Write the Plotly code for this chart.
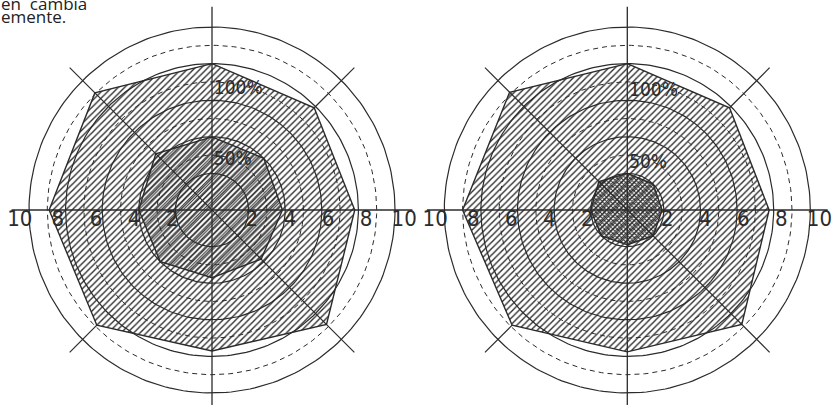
import numpy as np
import plotly.graph_objects as go

# spoke directions (degrees, counter-clockwise from east)
spoke_deg = [90, 45, 0, -45, -90, -135, 180, 135]

# values along each spoke
left_outer = [8.0, 7.9, 7.8, 8.85, 7.7, 8.9, 8.9, 9.05]
left_inner = [4.0, 4.0, 3.85, 3.8, 3.7, 4.0, 4.0, 4.35]
right_outer = [8.0, 7.9, 7.75, 8.85, 7.75, 8.9, 9.0, 9.1]
right_inner = [2.0, 2.0, 1.9, 2.0, 1.9, 2.0, 2.0, 2.2]

solid_rings = [2, 4, 6, 8, 10]
dashed_rings = [3, 5, 7, 9]
tick_vals = [-10, -8, -6, -4, -2, 2, 4, 6, 8, 10]
tick_text = ["10", "8", "6", "4", "2", "2", "4", "6", "8", "10"]
pct_text = ["100%", "50%"]
left_pct_r = [6.6, 2.7]
right_pct_r = [6.5, 2.55]

INK = "#2b2b2b"
NARROW = "Liberation Sans Narrow, DejaVu Sans Condensed, Open Sans, sans-serif"
PX = 18.3  # pixels per unit


def to_xy(values, degs):
    rad = np.radians(degs)
    return np.array(values) * np.cos(rad), np.array(values) * np.sin(rad)


def closed(a):
    return list(a) + [a[0]]


fig = go.Figure()


def add_radar(xa, ya, outer, inner, inner_pattern, pct_r):
    ax = dict(xaxis=xa, yaxis=ya)
    ox, oy = to_xy(outer, spoke_deg)
    fig.add_trace(go.Scatter(
        x=closed(ox), y=closed(oy), mode="lines", fill="toself",
        fillcolor="rgba(0,0,0,0)",
        fillpattern=dict(shape="/", size=4.5, solidity=0.3, fgcolor=INK, fillmode="replace"),
        line=dict(color=INK, width=1.4), hoverinfo="skip", **ax))
    ix, iy = to_xy(inner, spoke_deg)
    fig.add_trace(go.Scatter(
        x=closed(ix), y=closed(iy), mode="lines", fill="toself",
        fillcolor="rgba(0,0,0,0)",
        fillpattern=inner_pattern,
        line=dict(color=INK, width=1.4), hoverinfo="skip", **ax))

    t = np.linspace(0, 2 * np.pi, 241)
    for r in solid_rings:
        fig.add_trace(go.Scatter(x=r * np.cos(t), y=r * np.sin(t), mode="lines",
                                 line=dict(color=INK, width=1.2), hoverinfo="skip", **ax))
    for r in dashed_rings:
        fig.add_trace(go.Scatter(x=r * np.cos(t), y=r * np.sin(t), mode="lines",
                                 line=dict(color=INK, width=1.0, dash="5px,4px"),
                                 hoverinfo="skip", **ax))

    # axes: horizontal, vertical, full NW-SE diagonal, NE-SW only outside the shape
    fig.add_trace(go.Scatter(x=[-10.95, 10.95], y=[0, 0], mode="lines",
                             line=dict(color=INK, width=1.3), hoverinfo="skip", **ax))
    fig.add_trace(go.Scatter(x=[0, 0], y=[-10.8, 11.1], mode="lines",
                             line=dict(color=INK, width=1.3), hoverinfo="skip", **ax))
    dx, dy = to_xy([11.0, 11.0], [135, -45])
    fig.add_trace(go.Scatter(x=dx, y=dy, mode="lines",
                             line=dict(color=INK, width=1.2), hoverinfo="skip", **ax))
    for k in (1, 5):
        sx, sy = to_xy([outer[k], 11.0], [spoke_deg[k], spoke_deg[k]])
        fig.add_trace(go.Scatter(x=sx, y=sy, mode="lines",
                                 line=dict(color=INK, width=1.2), hoverinfo="skip", **ax))

    tx = [v * 1.04 + 0.1 * np.sign(v) for v in tick_vals]
    fig.add_trace(go.Scatter(x=tx, y=[-0.6] * len(tick_vals), mode="text", text=tick_text,
                             textposition="middle center", cliponaxis=False,
                             textfont=dict(family=NARROW, size=22, color=INK),
                             hoverinfo="skip", **ax))
    fig.add_trace(go.Scatter(x=[0.1] * len(pct_r), y=pct_r, mode="text", text=pct_text,
                             textposition="middle right", cliponaxis=False,
                             textfont=dict(family=NARROW, size=19, color=INK),
                             hoverinfo="skip", **ax))


add_radar("x", "y", left_outer, left_inner,
          dict(shape="/", size=3.5, solidity=0.3, fgcolor=INK, fillmode="replace"), left_pct_r)
add_radar("x2", "y2", right_outer, right_inner,
          dict(shape="x", size=3, solidity=0.55, fgcolor=INK, fillmode="replace"), right_pct_r)

W, H = 840, 405
yr = [-(H - 210) / PX, 210 / PX]
hidden = dict(visible=False, showgrid=False, zeroline=False, fixedrange=True)
fig.update_layout(
    width=W, height=H, margin=dict(l=0, r=0, t=0, b=0),
    paper_bgcolor="white", plot_bgcolor="white", showlegend=False,
    xaxis=dict(domain=[2 / W, 422 / W], range=[-210 / PX, 210 / PX], **hidden),
    yaxis=dict(domain=[0, 1], range=yr, **hidden),
    xaxis2=dict(domain=[422 / W, 832.6 / W], range=[-205.3 / PX, 205.3 / PX], anchor="y2", **hidden),
    yaxis2=dict(domain=[0, 1], range=yr, anchor="x2", **hidden),
)

# cropped caption text from the page, top-left
for txt, y in [("en\u00a0\u00a0cambia", 3), ("emente.", 16)]:
    fig.add_annotation(text=txt, xref="paper", yref="paper", x=-1 / W, y=1 - y / H,
                       xanchor="left", yanchor="middle", showarrow=False,
                       font=dict(family="Open Sans, sans-serif", size=17, color="#222"))

fig.write_html("out.html", config={"displayModeBar": False},
               post_script="document.body.style.margin='0';document.body.style.overflow='hidden';")
